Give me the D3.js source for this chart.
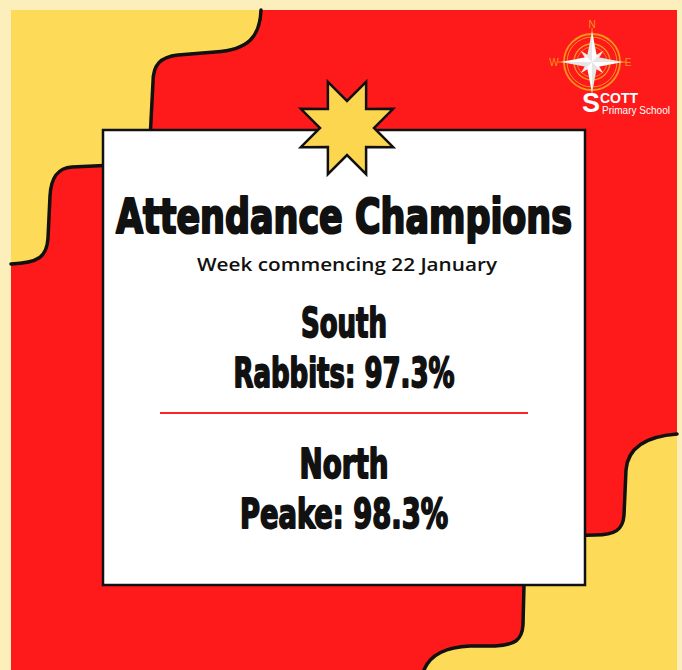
<!DOCTYPE html>
<html>
<head>
<meta charset="utf-8">
<script src="https://cdn.jsdelivr.net/npm/d3@7"></script>
<style>
  html, body { margin: 0; padding: 0; background: #fdefbb; }
  svg { display: block; }
</style>
</head>
<body>
<div id="poster"></div>
<script>
// Donnees de l'affiche
const groups = ["South", "North"];
const champions = ["Rabbits", "Peake"];
const attendance = [97.3, 98.3];
const title = "Attendance Champions";
const weekStart = "22 January";

(function() {
    const W = 682, H = 670;
    const RED = "#fe1a1a", YELLOW = "#fddb58", CREAM = "#fdefbb", ORANGE = "#f7931e";

    const svg = d3.select("#poster").append("svg")
        .attr("width", W).attr("height", H);

    // Fond creme + zone rouge
    svg.append("rect").attr("width", W).attr("height", H).attr("fill", CREAM);
    svg.append("rect").attr("x", 11).attr("y", 10).attr("width", 666).attr("height", H - 10).attr("fill", RED);

    // Vagues jaunes (haut gauche / bas droite)
    const topLeftEdge = "M261,10 C260,36 249,50 215,52 L178,55 C160,57 153,65 153,82 L150,140 C149,158 140,165 115,165 L72,167 C58,168 51,177 50,196 L48,238 C47,257 38,263 11,264";
    const bottomRightEdge = "M677,434 C650,436 628,445 626,470 L624,515 C623,530 615,535 595,535 L560,536 C535,537 525,550 524,585 L523,625 C522,640 515,645 495,646 L470,646 C445,647 430,655 424,670";

    svg.append("path").attr("d", "M11,10 L261,10 " + topLeftEdge.replace("M261,10", "") + " Z").attr("fill", YELLOW);
    svg.append("path").attr("d", bottomRightEdge + " L677,670 Z").attr("fill", YELLOW);
    [topLeftEdge, bottomRightEdge].forEach(d => {
        svg.append("path").attr("d", d).attr("fill", "none")
            .attr("stroke", "#111").attr("stroke-width", 3.5).attr("stroke-linecap", "round");
    });

    // Carte blanche
    svg.append("rect")
        .attr("x", 103).attr("y", 130).attr("width", 482).attr("height", 455)
        .attr("fill", "#fff").attr("stroke", "#111").attr("stroke-width", 2.5);

    // Etoile a 8 branches
    const star = d3.range(16).map(i => {
        const a = (i * 22.5 + 22.5) * Math.PI / 180;
        const r = i % 2 === 0 ? 50 : 27;
        return [347 + r * Math.sin(a), 128 - r * Math.cos(a)];
    });
    svg.append("path")
        .attr("d", d3.line()(star) + "Z")
        .attr("fill", "#fcd64f").attr("stroke", "#111").attr("stroke-width", 2.5)
        .attr("stroke-linejoin", "miter");

    const cx = 344;
    const heavy = "'DejaVu Sans Condensed', 'DejaVu Sans', sans-serif";

    // Titre
    svg.append("text")
        .attr("x", cx).attr("y", 233)
        .attr("text-anchor", "middle")
        .attr("textLength", 456).attr("lengthAdjust", "spacingAndGlyphs")
        .style("font-family", heavy).style("font-weight", "bold").style("font-size", "48px")
        .style("fill", "#111").style("stroke", "#111").style("stroke-width", 2.2)
        .style("stroke-linejoin", "round")
        .text(title);

    svg.append("text")
        .attr("x", 347).attr("y", 271)
        .attr("text-anchor", "middle")
        .attr("textLength", 300).attr("lengthAdjust", "spacingAndGlyphs")
        .style("font-family", "'Open Sans', sans-serif").style("font-weight", 600).style("font-size", "18px")
        .style("fill", "#111")
        .text("Week commencing " + weekStart);

    // Sections (Sud / Nord)
    const y = d3.scalePoint().domain(groups).range([337, 478]);
    const headWidth = {South: 86, North: 89};
    const lineWidth = {South: 221, North: 208};

    const rows = groups.map((g, i) => ({group: g, name: champions[i], value: attendance[i]}));

    const sec = svg.selectAll(".section")
        .data(rows)
        .join("g")
        .attr("class", "section");

    sec.append("text")
        .attr("x", cx).attr("y", d => y(d.group))
        .attr("text-anchor", "middle")
        .attr("textLength", d => headWidth[d.group]).attr("lengthAdjust", "spacingAndGlyphs")
        .style("font-family", heavy).style("font-weight", "bold").style("font-size", "40px")
        .style("fill", "#111").style("stroke", "#111").style("stroke-width", 1.8)
        .style("stroke-linejoin", "round")
        .text(d => d.group);

    sec.append("text")
        .attr("x", cx).attr("y", d => y(d.group) + 50)
        .attr("text-anchor", "middle")
        .attr("textLength", d => lineWidth[d.group]).attr("lengthAdjust", "spacingAndGlyphs")
        .style("font-family", heavy).style("font-weight", "bold").style("font-size", "40px")
        .style("fill", "#111").style("stroke", "#111").style("stroke-width", 1.8)
        .style("stroke-linejoin", "round")
        .text(d => `${d.name}: ${d3.format(".1f")(d.value)}%`);

    // Separateur rouge
    svg.append("line")
        .attr("x1", 160).attr("x2", 528)
        .attr("y1", y(groups[0]) + 76).attr("y2", y(groups[0]) + 76)
        .attr("stroke", "#f22").attr("stroke-width", 2);

    // Logo de l'ecole
    const logo = svg.append("g").attr("transform", "translate(592,62)");
    [[28, 1.8], [25, 1], [18, 1.3], [15, 0.8]].forEach(([r, w]) => {
        logo.append("circle").attr("r", r).attr("fill", "none").attr("stroke", ORANGE).attr("stroke-width", w);
    });
    [[0, -34, 0, 34], [-34, 0, 34, 0]].forEach(([x1, y1, x2, y2]) => {
        logo.append("line").attr("x1", x1).attr("y1", y1).attr("x2", x2).attr("y2", y2)
            .attr("stroke", ORANGE).attr("stroke-width", 1);
    });
    // petites branches diagonales
    d3.range(4).forEach(k => {
        logo.append("path")
            .attr("transform", `rotate(${45 + k * 90})`)
            .attr("d", "M0,-16 L3,-4 L0,0 L-3,-4 Z")
            .attr("fill", "#fff").attr("opacity", 0.9);
    });
    // grandes branches
    d3.range(4).forEach(k => {
        const g = logo.append("g").attr("transform", `rotate(${k * 90})`);
        g.append("path").attr("d", "M0,-31 L5,-5 L0,0 Z").attr("fill", "#fff");
        g.append("path").attr("d", "M0,-31 L-5,-5 L0,0 Z").attr("fill", "#e6e6e6");
    });
    [["N", 0, -34], ["W", -38, 3.5], ["E", 36, 3.5]].forEach(([t, x, yy]) => {
        logo.append("text").attr("x", x).attr("y", yy).attr("text-anchor", "middle")
            .style("font-family", "'Liberation Sans', sans-serif").style("font-size", "10px")
            .style("fill", ORANGE).text(t);
    });

    const brand = "'Liberation Sans', Arial, sans-serif";
    svg.append("text").attr("x", 582).attr("y", 112)
        .style("font-family", brand).style("font-weight", "bold").style("font-size", "27px")
        .style("fill", "#fff").text("S");
    svg.append("text").attr("x", 600).attr("y", 103)
        .style("font-family", brand).style("font-weight", "bold").style("font-size", "14px")
        .style("fill", "#fff").text("COTT");
    svg.append("text").attr("x", 602).attr("y", 114)
        .attr("textLength", 68).attr("lengthAdjust", "spacingAndGlyphs")
        .style("font-family", brand).style("font-size", "10px")
        .style("fill", "#fff").text("Primary School");
})();
</script>
</body>
</html>
